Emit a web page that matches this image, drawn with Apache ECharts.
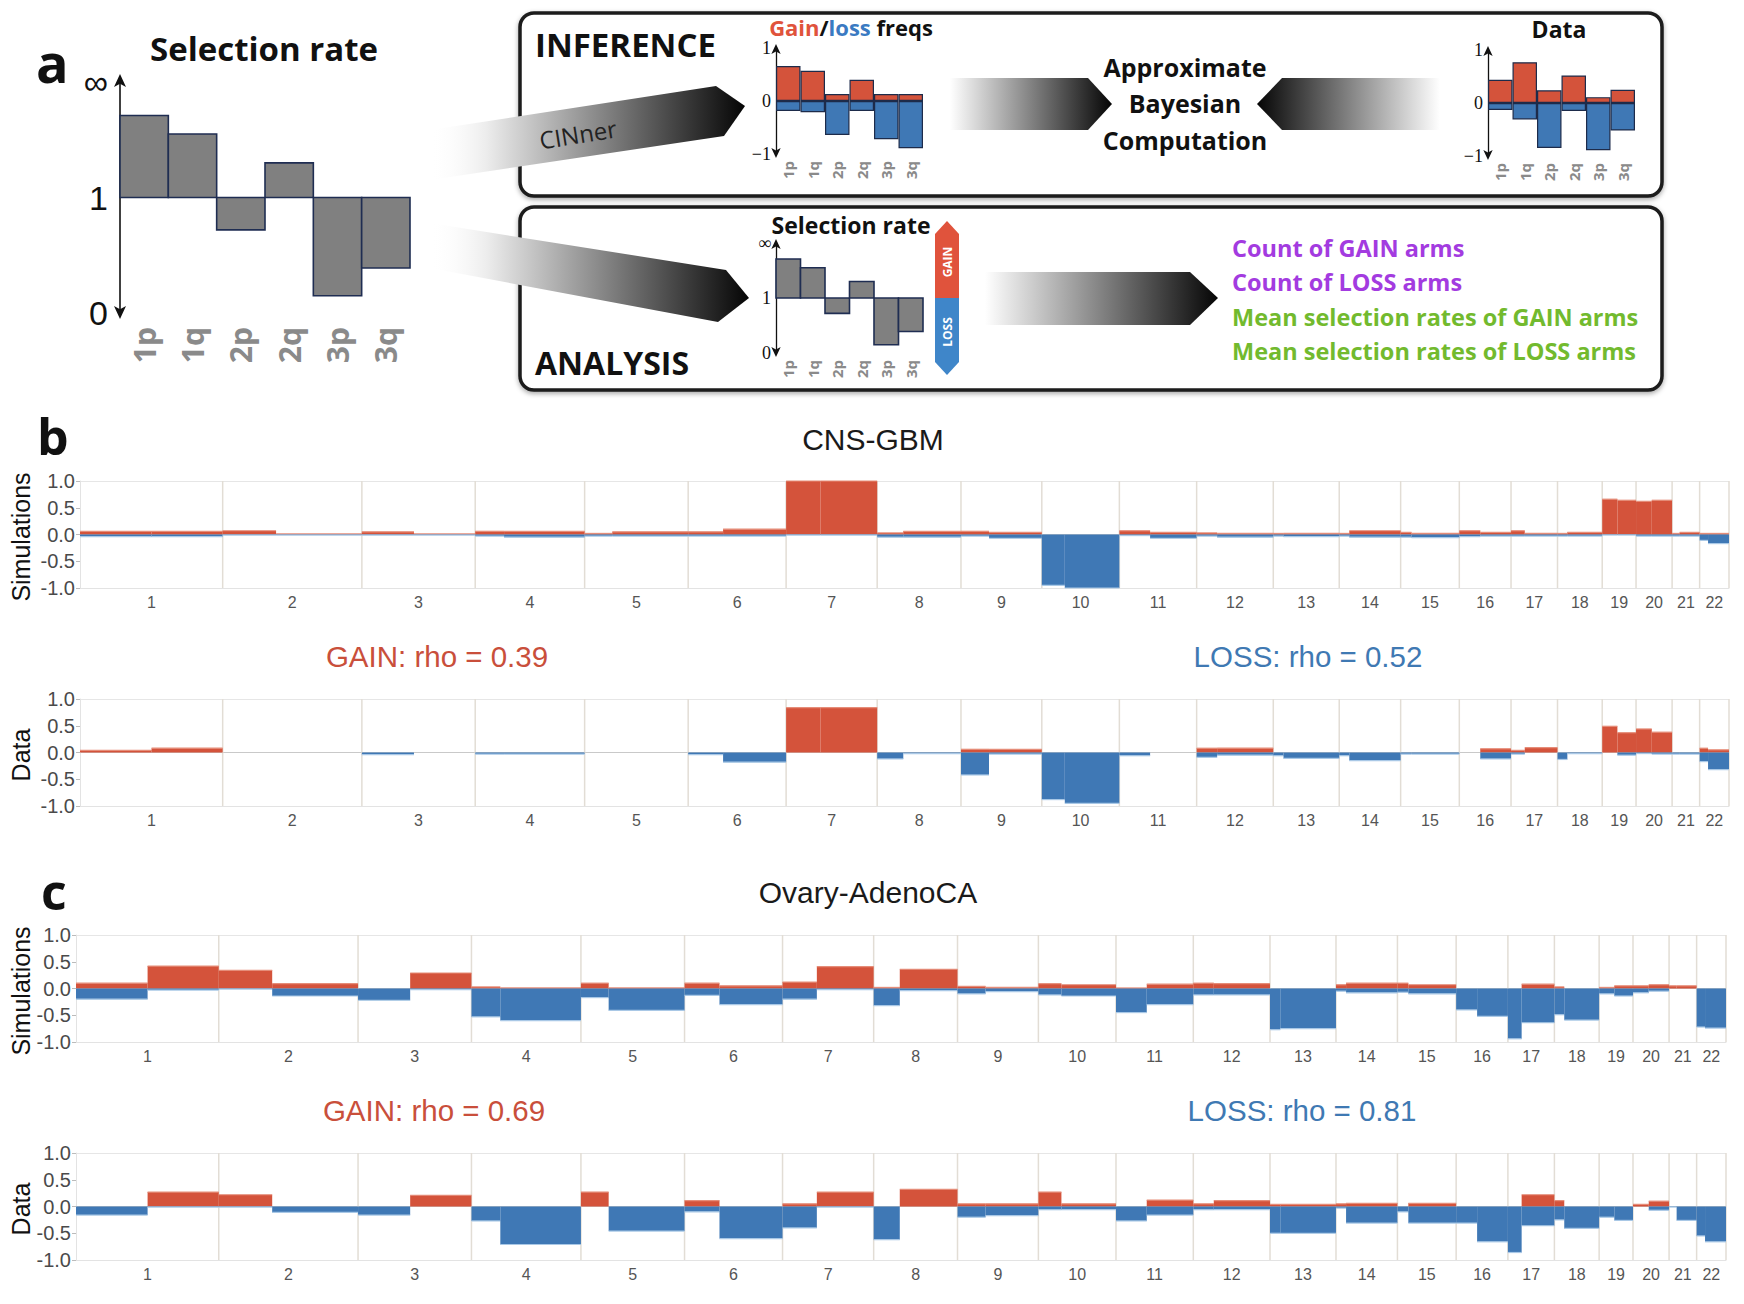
<!DOCTYPE html>
<html>
<head>
<meta charset="utf-8">
<script src="https://cdn.jsdelivr.net/npm/echarts@6/dist/echarts.min.js"></script>
<style>
html,body{margin:0;padding:0;background:#fff;}
#c{width:1744px;height:1304px;}
</style>
</head>
<body>
<div id="c"></div>
<script>
// ---------------- DATA ----------------
const chrNames = ['1','2','3','4','5','6','7','8','9','10','11','12','13','14','15','16','17','18','19','20','21','22'];
const chrLengths = [249.25,243.2,198.0,191.15,180.9,171.1,159.1,146.4,141.2,135.5,135.0,133.9,115.2,107.3,102.5,90.35,81.2,78.1,59.1,63.0,48.1,51.3];
const centromeres = [125.0,93.3,91.0,50.4,48.4,61.0,59.9,45.6,49.0,40.2,53.7,35.8,17.9,17.6,19.0,36.6,24.0,17.2,26.5,27.5,13.2,14.7];

// panel a / schematic arms (selection rate on display scale: 0 -> 0, 1 -> 1, 2 -> infinity)
const armLabels = ['1p','1q','2p','2q','3p','3q'];
const selectionRates = [1.71,1.55,0.72,1.30,0.15,0.39];
const inferredGain = [0.66,0.57,0.13,0.40,0.13,0.13];
const inferredLoss = [-0.19,-0.21,-0.64,-0.19,-0.72,-0.89];
const observedGain = [0.44,0.77,0.24,0.52,0.11,0.25];
const observedLoss = [-0.13,-0.31,-0.85,-0.15,-0.89,-0.52];

// panels b, c: values per arm, order 1p,1q,2p,2q,...,22p,22q
const cnsSimGain  = [.06,.06, .07,.01, .05,.01, .06,.06, .02,.05, .05,.10, 1.0,1.0, .03,.06, .06,.04, 0,0, .07,.04, .03,.02, .02,.02, .02,.07, .04,.02, .07,.04, .07,.02, .02,.04, .66,.64, .62,.64, .02,.04, .02,.02];
const cnsSimLoss  = [-.04,-.04, -.01,-.01, -.01,-.01, -.03,-.05, -.03,-.03, -.03,-.03, -.01,-.01, -.05,-.05, -.03,-.07, -.95,-1.0, -.02,-.07, -.03,-.05, -.03,-.04, -.03,-.05, -.05,-.06, -.04,-.03, -.03,-.03, -.03,-.03, -.01,-.01, -.03,-.03, -.03,-.03, -.11,-.17];
const cnsDataGain = [.04,.08, 0,0, 0,0, 0,0, 0,0, 0,0, .84,.84, 0,0, .06,.06, 0,0, 0,0, .08,.08, 0,0, 0,0, 0,0, 0,.07, .04,.09, 0,0, .49,.37, .44,.38, 0,0, .08,.05];
const cnsDataLoss = [0,0, 0,0, -.04,0, -.03,-.03, 0,0, -.04,-.18, 0,0, -.12,-.02, -.42,-.03, -.88,-.95, -.06,0, -.09,-.05, -.06,-.11, -.06,-.15, -.03,-.03, 0,-.12, -.03,0, -.13,-.02, 0,-.05, -.02,-.03, -.03,-.03, -.17,-.32];
const ovSimGain   = [.10,.42, .34,.09, 0,.29, .03,.01, .10,.01, .10,.05, .12,.41, .02,.36, .04,.02, .09,.07, .01,.08, .10,.09, 0,0, .07,.10, .10,.07, 0,0, 0,.08, .03,0, .02,.05, .05,.07, .05,.05, 0,0];
const ovSimLoss   = [-.20,-.03, -.01,-.14, -.22,-.02, -.53,-.60, -.17,-.41, -.13,-.30, -.20,-.02, -.32,-.04, -.10,-.06, -.12,-.14, -.45,-.30, -.12,-.12, -.77,-.75, -.05,-.08, -.07,-.10, -.40,-.52, -.94,-.64, -.49,-.59, -.10,-.14, -.08,-.05, 0,0, -.72,-.74];
const ovDataGain  = [0,.27, .22,0, 0,.21, 0,0, .27,0, .11,0, .05,.27, 0,.32, .05,.05, .27,.05, 0,.12, .05,.11, .04,.04, .05,.06, 0,.06, 0,0, 0,.22, .11,0, 0,0, .04,.10, 0,0, 0,0];
const ovDataLoss  = [-.16,-.01, -.01,-.11, -.16,0, -.27,-.71, 0,-.46, -.10,-.60, -.40,-.01, -.62,0, -.20,-.17, -.06,-.06, -.27,-.16, -.06,-.06, -.50,-.50, -.03,-.31, -.10,-.31, -.31,-.66, -.86,-.36, -.25,-.41, -.20,-.26, 0,-.07, -.01,-.26, -.55,-.66];

const titles = ['CNS-GBM','Ovary-AdenoCA'];
const rhoGain = ['0.39','0.69'];
const rhoLoss = ['0.52','0.81'];
const rowNames = ['Simulations','Data','Simulations','Data'];

// ---------------- DERIVED ----------------
const RED = '#d4533b', BLUE = '#3f78b5';
const SANS = "'Liberation Sans', Arial, sans-serif";
const BOLD = "'Open Sans', 'Noto Sans', sans-serif";
let acc = 0;
const chrStart = [], chrEnd = [], chrCenter = [], arms = [];
chrLengths.forEach((L, i) => {
  chrStart.push(acc); chrEnd.push(acc + L); chrCenter.push(acc + L / 2);
  arms.push([acc, acc + centromeres[i]]);
  arms.push([acc + centromeres[i], acc + L]);
  acc += L;
});
const genomeLen = acc;

function armData(gain, loss) {
  return arms.map((a, k) => [a[0], a[1], gain[k], loss[k]]);
}

function genRender(params, api) {
  const s = api.value(0), e = api.value(1), g = api.value(2), l = api.value(3);
  const a = api.coord([s, 0]), b = api.coord([e, g]), c = api.coord([e, l]);
  const w = b[0] - a[0];
  const ch = [];
  if (g > 0) {
    ch.push({type:'rect', shape:{x:a[0], y:b[1], width:w, height:a[1]-b[1]}, style:{fill:RED}});
    ch.push({type:'line', shape:{x1:a[0], y1:b[1], x2:b[0], y2:b[1]}, style:{stroke:'#e58d79', lineWidth:1.2}});
  }
  if (l < 0) {
    ch.push({type:'rect', shape:{x:a[0], y:a[1], width:w, height:c[1]-a[1]}, style:{fill:BLUE}});
    ch.push({type:'line', shape:{x1:a[0], y1:c[1], x2:c[0], y2:c[1]}, style:{stroke:'#a9c8e6', lineWidth:1.2}});
  }
  return {type:'group', children: ch};
}
function boundaryRender(params, api) {
  const x = api.value(0);
  const p1 = api.coord([x, 1]), p2 = api.coord([x, -1]);
  return {type:'line', shape:{x1:p1[0], y1:p1[1], x2:p2[0], y2:p2[1]}, style:{stroke:'#e2ddd5', lineWidth:1.5}};
}
function selRender(params, api) {
  const i = api.value(0), v = api.value(1);
  const base = api.coord([i, 1]), top = api.coord([i, v]);
  const w = api.size([1, 0])[0];
  return {type:'rect', shape:{x:base[0]-w/2, y:Math.min(base[1], top[1]), width:w, height:Math.abs(base[1]-top[1])},
          style:{fill:'#808080', stroke:'#1f2d52', lineWidth:1.6}};
}

// ---------------- GRIDS / AXES ----------------
const grids = [
  {left:120, top:82, width:290, height:231},    // 0 panel a
  {left:776, top:48, width:147, height:106},    // 1 inference sim freqs
  {left:1488, top:50, width:147, height:106},   // 2 inference data freqs
  {left:776, top:243, width:147, height:110},   // 3 analysis selection
  {left:80, top:481, width:1649, height:107},   // 4 b sims
  {left:80, top:699, width:1649, height:107},   // 5 b data
  {left:76, top:935, width:1650, height:107},   // 6 c sims
  {left:76, top:1153, width:1650, height:107}   // 7 c data
];

const xAxes = [], yAxes = [];
// panel a
xAxes.push({gridIndex:0, type:'category', data:armLabels, axisLine:{show:false, onZero:false}, axisTick:{show:false},
  axisLabel:{rotate:90, fontSize:30, fontWeight:'bold', color:'#8a8a8a', fontFamily:BOLD, margin:14, interval:0}});
yAxes.push({gridIndex:0, type:'value', min:0, max:2, interval:1,
  axisLine:{show:true, symbol:['arrow','arrow'], symbolSize:[9,13], symbolOffset:[-6,8], lineStyle:{color:'#111', width:1.6}},
  axisTick:{show:false}, splitLine:{show:false},
  axisLabel:{fontSize:34, color:'#111', fontFamily:SANS, margin:12, formatter: v => v === 2 ? '∞' : String(v)}});
// mini charts
[1,2].forEach(g => {
  xAxes.push({gridIndex:g, type:'category', data:armLabels, axisLine:{show:false, onZero:false}, axisTick:{show:false},
    axisLabel:{rotate:90, fontSize:15, fontWeight:'bold', color:'#8a8a8a', fontFamily:BOLD, margin:7, interval:0}});
  yAxes.push({gridIndex:g, type:'value', min:-1, max:1, interval:1,
    axisLine:{show:true, symbol:['arrow','arrow'], symbolSize:[7,10], symbolOffset:[-4,4], lineStyle:{color:'#111', width:1.3}},
    axisTick:{show:false}, splitLine:{show:false},
    axisLabel:{fontSize:18, color:'#111', fontFamily:"'Liberation Serif', serif", margin:5, formatter: v => v === 0 ? '0' : (v > 0 ? '1' : '−1')}});
});
xAxes.push({gridIndex:3, type:'category', data:armLabels, axisLine:{show:false, onZero:false}, axisTick:{show:false},
  axisLabel:{rotate:90, fontSize:15, fontWeight:'bold', color:'#8a8a8a', fontFamily:BOLD, margin:7, interval:0}});
yAxes.push({gridIndex:3, type:'value', min:0, max:2, interval:1,
  axisLine:{show:true, symbol:['arrow','arrow'], symbolSize:[7,10], symbolOffset:[-4,4], lineStyle:{color:'#111', width:1.3}},
  axisTick:{show:false}, splitLine:{show:false},
  axisLabel:{fontSize:18, color:'#111', fontFamily:"'Liberation Serif', serif", margin:5, formatter: v => v === 2 ? '∞' : String(v)}});
// genome panels
[4,5,6,7].forEach((g, k) => {
  xAxes.push({gridIndex:g, type:'value', min:0, max:genomeLen,
    axisLine:{show:true, onZero:false, lineStyle:{color:'#e3e3e3', width:1}}, axisTick:{show:false}, splitLine:{show:false},
    axisLabel:{customValues: chrCenter, fontSize:16, color:'#555', fontFamily:SANS, margin:6,
      formatter: v => { const i = chrCenter.findIndex(c => Math.abs(c - v) < 0.01); return i >= 0 ? chrNames[i] : ''; }}});
  yAxes.push({gridIndex:g, type:'value', min:-1, max:1, interval:0.5,
    axisLine:{show:true, lineStyle:{color:'#e3e3e3'}}, axisTick:{show:true, length:4, lineStyle:{color:'#bbb'}},
    splitLine:{show:true, lineStyle:{color:['#e6e6e6','rgba(0,0,0,0)','#c9c9c9','rgba(0,0,0,0)','#e6e6e6'], width:1}},
    axisLabel:{fontSize:20, color:'#4a4a4a', fontFamily:SANS, margin:5, formatter: v => v.toFixed(1)}});
});

// ---------------- SERIES ----------------
const series = [];
series.push({type:'custom', xAxisIndex:0, yAxisIndex:0, renderItem:selRender, encode:{x:0, y:1},
  data: selectionRates.map((v, i) => [i, v])});
series.push({type:'bar', xAxisIndex:1, yAxisIndex:1, data:inferredGain, barCategoryGap:'0%', barGap:'-100%',
  itemStyle:{color:RED, borderColor:'#1d2b4a', borderWidth:1.2}});
series.push({type:'bar', xAxisIndex:1, yAxisIndex:1, data:inferredLoss, barCategoryGap:'0%', barGap:'-100%',
  itemStyle:{color:BLUE, borderColor:'#1d2b4a', borderWidth:1.2}});
series.push({type:'bar', xAxisIndex:2, yAxisIndex:2, data:observedGain, barCategoryGap:'0%', barGap:'-100%',
  itemStyle:{color:RED, borderColor:'#1d2b4a', borderWidth:1.2}});
series.push({type:'bar', xAxisIndex:2, yAxisIndex:2, data:observedLoss, barCategoryGap:'0%', barGap:'-100%',
  itemStyle:{color:BLUE, borderColor:'#1d2b4a', borderWidth:1.2}});
series.push({type:'custom', xAxisIndex:3, yAxisIndex:3, renderItem:selRender, encode:{x:0, y:1},
  data: selectionRates.map((v, i) => [i, v])});
const panelData = [[cnsSimGain, cnsSimLoss],[cnsDataGain, cnsDataLoss],[ovSimGain, ovSimLoss],[ovDataGain, ovDataLoss]];
panelData.forEach((pd, k) => {
  const ax = 4 + k;
  series.push({type:'custom', xAxisIndex:ax, yAxisIndex:ax, renderItem:boundaryRender, encode:{x:0}, z:1,
    data: chrEnd.map(v => [v]), silent:true});
  series.push({type:'custom', xAxisIndex:ax, yAxisIndex:ax, renderItem:genRender, encode:{x:[0,1], y:[2,3]}, z:3,
    data: armData(pd[0], pd[1])});
});

// ---------------- DECORATION ----------------
function grad(x, x2, c0, c1) {
  return {type:'linear', x:x, y:0, x2:x2, y2:0, global:true,
    colorStops:[{offset:0, color:c0}, {offset:0.18, color:'#ececec'}, {offset:1, color:c1}]};
}
function txt(text, x, y, font, fill, align, extra) {
  return Object.assign({type:'text', x:x, y:y, style:{text:text, x:0, y:0, font:font, fill:fill || '#111',
    textAlign:align || 'center', textVerticalAlign:'middle'}}, extra || {});
}
const rowCenters = [534, 752, 988, 1206];
const elements = [
  {type:'rect', shape:{x:520, y:13, width:1142, height:183, r:14}, z:0,
    style:{fill:'#fff', stroke:'#1b1b1b', lineWidth:3.5, shadowBlur:5, shadowColor:'rgba(0,0,0,0.35)', shadowOffsetY:2}},
  {type:'rect', shape:{x:520, y:207, width:1142, height:183, r:14}, z:0,
    style:{fill:'#fff', stroke:'#1b1b1b', lineWidth:3.5, shadowBlur:5, shadowColor:'rgba(0,0,0,0.35)', shadowOffsetY:2}},
  {type:'polygon', shape:{points:[[430,130],[716,86],[745,106],[724,136],[430,180]]}, z:1,
    style:{fill:grad(430, 745, 'rgba(255,255,255,0)', '#050505')}},
  {type:'polygon', shape:{points:[[430,223],[726,270],[749,298],[718,322],[430,268]]}, z:1,
    style:{fill:grad(430, 749, 'rgba(255,255,255,0)', '#050505')}},
  {type:'polygon', shape:{points:[[950,78],[1088,78],[1112,104],[1088,130],[950,130]]}, z:1,
    style:{fill:{type:'linear', x:950, y:0, x2:1112, y2:0, global:true, colorStops:[{offset:0, color:'#ffffff'},{offset:1, color:'#050505'}]}}},
  {type:'polygon', shape:{points:[[1440,78],[1282,78],[1257,104],[1282,130],[1440,130]]}, z:1,
    style:{fill:{type:'linear', x:1440, y:0, x2:1257, y2:0, global:true, colorStops:[{offset:0, color:'#ffffff'},{offset:1, color:'#050505'}]}}},
  {type:'polygon', shape:{points:[[985,272],[1190,272],[1218,298],[1190,325],[985,325]]}, z:1,
    style:{fill:{type:'linear', x:985, y:0, x2:1218, y2:0, global:true, colorStops:[{offset:0, color:'#ffffff'},{offset:1, color:'#050505'}]}}},
  {type:'polygon', shape:{points:[[947,221],[959,234],[959,298],[935,298],[935,234]]}, z:1, style:{fill:'#e0533c'}},
  {type:'polygon', shape:{points:[[935,298],[959,298],[959,362],[947,375],[935,362]]}, z:1, style:{fill:'#3f86c9'}},
  txt('GAIN', 947, 262, "bold 12px 'Open Sans'", '#fff', 'center', {rotation:Math.PI/2, z:2}),
  txt('LOSS', 947, 332, "bold 12px 'Open Sans'", '#fff', 'center', {rotation:Math.PI/2, z:2}),
  txt('CINner', 578, 134, "24px 'Open Sans'", '#222', 'center', {rotation:0.16, z:2}),
  txt('a', 36, 62, "bold 54px 'Open Sans'", '#111', 'left', {z:2}),
  txt('Selection rate', 264, 48, "bold 33px 'Open Sans'", '#111', 'center', {z:2}),
  txt('INFERENCE', 535, 44, "bold 33px 'Open Sans'", '#111', 'left', {z:2}),
  txt('ANALYSIS', 535, 362, "bold 32px 'Open Sans'", '#111', 'left', {z:2}),
  {type:'text', x:851, y:27, z:2, style:{text:'{g|Gain}/{l|loss} freqs', x:0, y:0, font:"bold 22px 'Open Sans'", fill:'#111',
    textAlign:'center', textVerticalAlign:'middle',
    rich:{g:{fill:'#e0533c', font:"bold 22px 'Open Sans'"}, l:{fill:'#3a7ac2', font:"bold 22px 'Open Sans'"}}}},
  txt('Data', 1559, 29, "bold 23px 'Open Sans'", '#111', 'center', {z:2}),
  txt('Approximate', 1185, 67, "bold 25px 'Open Sans'", '#111', 'center', {z:2}),
  txt('Bayesian', 1185, 103, "bold 25px 'Open Sans'", '#111', 'center', {z:2}),
  txt('Computation', 1185, 140, "bold 25px 'Open Sans'", '#111', 'center', {z:2}),
  txt('Selection rate', 851, 225, "bold 23px 'Open Sans'", '#111', 'center', {z:2}),
  txt('Count of GAIN arms', 1232, 248, "bold 23.5px 'Open Sans'", '#a33be0', 'left', {z:2}),
  txt('Count of LOSS arms', 1232, 282, "bold 23.5px 'Open Sans'", '#a33be0', 'left', {z:2}),
  txt('Mean selection rates of GAIN arms', 1232, 317, "bold 23.5px 'Open Sans'", '#72ba2e', 'left', {z:2}),
  txt('Mean selection rates of LOSS arms', 1232, 351, "bold 23.5px 'Open Sans'", '#72ba2e', 'left', {z:2}),
  txt('b', 37, 436, "bold 50px 'Open Sans'", '#111', 'left', {z:2}),
  txt('c', 41, 891, "bold 50px 'Open Sans'", '#111', 'left', {z:2}),
  txt(titles[0], 873, 439, "30px 'Liberation Sans'", '#1a1a1a', 'center', {z:2}),
  txt(titles[1], 868, 892, "30px 'Liberation Sans'", '#1a1a1a', 'center', {z:2}),
  txt('GAIN: rho = ' + rhoGain[0], 437, 656, "29.5px 'Liberation Sans'", '#c94f3b', 'center', {z:2}),
  txt('LOSS: rho = ' + rhoLoss[0], 1308, 656, "29.5px 'Liberation Sans'", '#3f79b3', 'center', {z:2}),
  txt('GAIN: rho = ' + rhoGain[1], 434, 1110, "29.5px 'Liberation Sans'", '#c94f3b', 'center', {z:2}),
  txt('LOSS: rho = ' + rhoLoss[1], 1302, 1110, "29.5px 'Liberation Sans'", '#3f79b3', 'center', {z:2})
];
rowNames.forEach((n, k) => {
  elements.push(txt(n, 21, rowCenters[k] + 3, "25px 'Liberation Sans'", '#111', 'center', {rotation:Math.PI/2, z:2}));
});

const chart = echarts.init(document.getElementById('c'), null, {renderer:'svg', width:1744, height:1304});
chart.setOption({
  animation:false,
  backgroundColor:'#ffffff',
  grid: grids,
  xAxis: xAxes,
  yAxis: yAxes,
  series: series,
  graphic: {elements: elements}
});
</script>
</body>
</html>
